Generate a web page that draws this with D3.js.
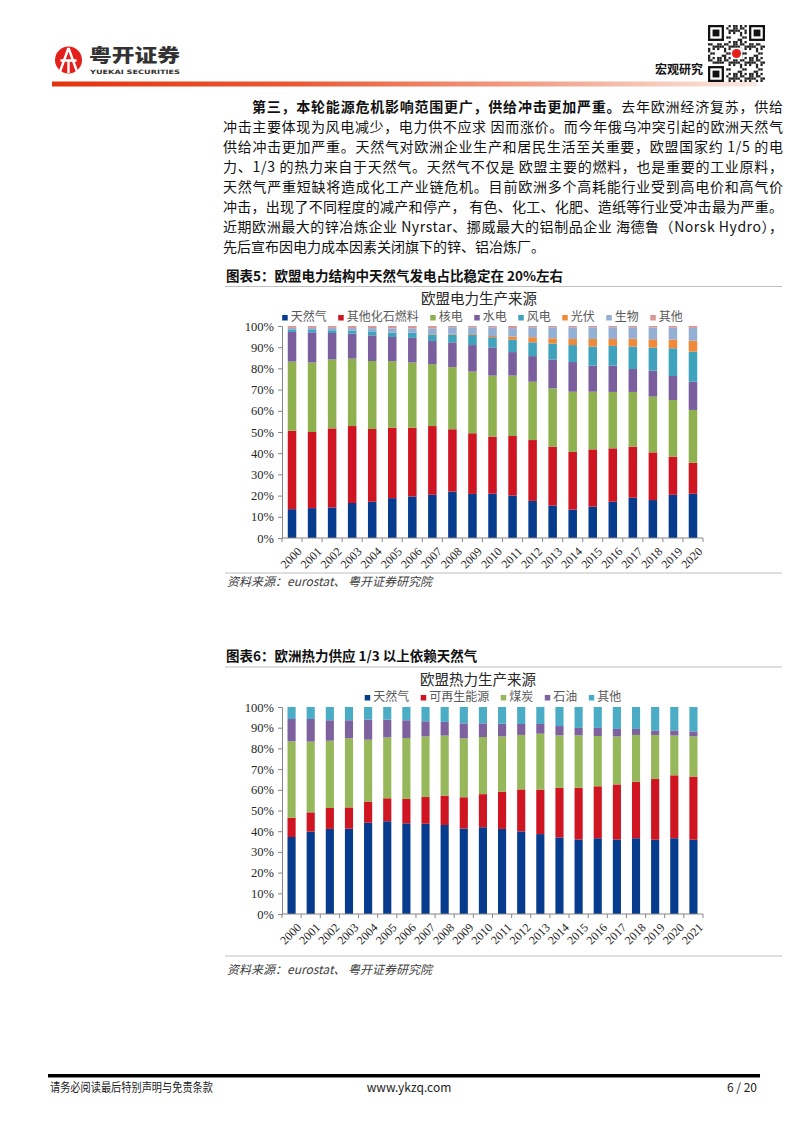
<!DOCTYPE html>
<html><head><meta charset="utf-8">
<script src="https://cdn.jsdelivr.net/npm/d3@7/dist/d3.min.js"></script>
<style>
html,body{margin:0;padding:0;background:#fff;}
svg{display:block;}
</style></head>
<body>
<script>
// ---------- DATA ----------
const elecYears = ["2000","2001","2002","2003","2004","2005","2006","2007","2008","2009","2010","2011","2012","2013","2014","2015","2016","2017","2018","2019","2020"];
const elecNames = ["天然气","其他化石燃料","核电","水电","风电","光伏","生物","其他"];
const elecGas     = [13.6,14.1,14.4,16.5,17.1,18.8,19.6,20.4,21.9,20.8,20.9,20.0,17.5,15.3,13.4,14.8,17.1,19.0,17.9,20.4,20.9];
const elecFossil  = [37.0,35.9,37.3,36.3,34.3,33.2,32.4,32.4,29.4,28.6,26.9,28.1,28.7,27.8,27.2,27.0,25.2,24.1,22.5,18.0,14.6];
const elecNuclear = [32.6,32.8,32.5,31.8,32.1,31.4,30.8,29.2,29.3,29.1,28.8,28.5,27.5,27.5,28.4,27.2,26.6,25.8,26.3,26.7,24.9];
const elecHydro   = [14.0,14.2,12.5,11.8,12.1,11.4,11.6,10.9,11.7,12.5,13.3,11.1,12.1,13.5,14.0,12.3,12.4,10.8,12.2,11.3,13.3];
const elecWind    = [0.9,1.1,1.3,1.5,1.9,2.1,2.3,3.1,3.7,4.8,4.8,5.8,6.5,7.6,8.0,9.0,9.3,10.6,10.9,13.1,14.2];
const elecSolar   = [0.0,0.0,0.0,0.0,0.0,0.1,0.1,0.2,0.3,0.4,0.6,1.5,2.4,2.5,2.9,3.6,3.3,3.7,3.9,4.1,5.2];
const elecBio     = [1.0,1.0,1.1,1.1,1.5,1.9,2.1,2.7,3.1,3.2,4.1,4.0,4.7,5.2,5.5,5.5,5.5,5.4,5.6,5.6,6.0];
const elecOther   = [0.9,0.9,0.9,1.0,1.0,1.1,1.1,1.1,0.6,0.6,0.6,1.0,0.6,0.6,0.6,0.6,0.6,0.6,0.7,0.8,0.9];

const heatYears = ["2000","2001","2002","2003","2004","2005","2006","2007","2008","2009","2010","2011","2012","2013","2014","2015","2016","2017","2018","2019","2020","2021"];
const heatNames = ["天然气","可再生能源","煤炭","石油","其他"];
const heatGas   = [37.2,39.8,41.1,41.2,44.1,44.8,43.8,43.6,43.0,41.3,41.9,41.1,39.9,38.6,37.0,36.0,36.6,36.0,36.6,35.9,36.6,35.9];
const heatRenew = [9.3,9.3,10.1,10.3,10.2,11.1,11.8,12.9,14.2,15.1,16.0,18.0,20.3,21.5,23.9,25.0,25.1,26.6,27.3,29.3,30.4,30.5];
const heatCoal  = [36.9,34.2,32.5,33.4,29.9,29.4,29.4,29.3,29.0,28.5,27.6,26.7,26.3,27.0,25.4,25.3,24.3,23.2,22.6,21.3,19.2,19.4];
const heatOil   = [10.8,10.9,9.9,8.7,9.7,8.6,8.6,7.3,6.6,7.2,6.6,6.1,5.3,4.7,4.5,3.6,3.9,3.6,2.9,2.2,2.5,2.4];
const heatOther = [5.8,5.8,6.4,6.4,6.1,6.1,6.4,6.9,7.2,7.9,7.9,8.1,8.2,8.2,9.2,10.1,10.1,10.6,10.6,11.3,11.3,11.8];

const yTicks = [0,10,20,30,40,50,60,70,80,90,100];

const paraLines = [
  [{t:"第三，本轮能源危机影响范围更广，供给冲击更加严重。",b:true},{t:"去年欧洲经济复苏，供给"}],
  [{t:"冲击主要体现为风电减少，电力供不应求 因而涨价。而今年俄乌冲突引起的欧洲天然气"}],
  [{t:"供给冲击更加严重。天然气对欧洲企业生产和居民生活至关重要，欧盟国家约  1/5 的电"}],
  [{t:"力、1/3 的热力来自于天然气。天然气不仅是 欧盟主要的燃料，也是重要的工业原料，"}],
  [{t:"天然气严重短缺将造成化工产业链危机。目前欧洲多个高耗能行业受到高电价和高气价"}],
  [{t:"冲击，出现了不同程度的减产和停产， 有色、化工、化肥、造纸等行业受冲击最为严重。"}],
  [{t:"近期欧洲最大的锌冶炼企业 Nyrstar、挪威最大的铝制品企业 海德鲁（Norsk Hydro），"}],
  [{t:"先后宣布因电力成本因素关闭旗下的锌、铝冶炼厂。"}]
];

// ---------- SETUP ----------
const CJK = "'Noto Sans CJK SC','Noto Sans',sans-serif";
const SERIF = "'Liberation Serif','Noto Sans CJK SC',serif";
const svg = d3.select("body").append("svg").attr("width",802).attr("height",1133);
svg.append("rect").attr("width",802).attr("height",1133).attr("fill","#fff");

// ---------- HEADER ----------
const defs = svg.append("defs");
const grad = defs.append("linearGradient").attr("id","hdrGrad").attr("x1","0").attr("x2","1");
grad.append("stop").attr("offset","0").attr("stop-color","#E4320E");
grad.append("stop").attr("offset","0.35").attr("stop-color","#EA5A35");
grad.append("stop").attr("offset","0.7").attr("stop-color","#F2A48C");
grad.append("stop").attr("offset","1").attr("stop-color","#FBEAE4");
svg.append("rect").attr("x",52).attr("y",81.5).attr("width",705).attr("height",5).attr("fill","url(#hdrGrad)");

// logo icon
const logo = svg.append("g");
logo.append("circle").attr("cx",68.5).attr("cy",60).attr("r",13.5).attr("fill","#E3201B");
logo.append("path").attr("d","M68.5,48 L59.5,73 M68.5,48 L77.5,73 M60.5,60.5 L76.5,60.5 M68.5,60.5 L68.5,73")
  .attr("stroke","#fff").attr("stroke-width",2.4).attr("fill","none");
svg.append("text").attr("x",89).attr("y",62).attr("font-family",CJK).attr("font-weight",900)
  .attr("font-size",18).attr("fill","#333").attr("textLength",91).attr("lengthAdjust","spacingAndGlyphs").text("粤开证券");
svg.append("text").attr("x",90).attr("y",74).attr("font-family","'DejaVu Sans',sans-serif").attr("font-weight",700)
  .attr("font-size",6).attr("fill","#333").attr("textLength",90).attr("lengthAdjust","spacingAndGlyphs").text("YUEKAI SECURITIES");

svg.append("text").attr("x",655).attr("y",74).attr("font-family",CJK).attr("font-weight",700)
  .attr("font-size",12).attr("fill","#111").text("宏观研究");

// decorative QR block
const qr = svg.append("g").attr("transform","translate(708,25)");
const m = 2.28, N = 25;
for (let i=0;i<N;i++) for (let j=0;j<N;j++){
  const inFinder = (i<8&&j<8)||(i<8&&j>=N-8)||(i>=N-8&&j<8);
  if (inFinder) continue;
  if (((i*i+3*j+i*j+j*j*2)%7)<3) qr.append("rect").attr("x",j*m).attr("y",i*m).attr("width",m).attr("height",m).attr("fill","#222");
}
[[0,0],[0,N-7],[N-7,0]].forEach(([r,c])=>{
  qr.append("rect").attr("x",c*m+m/2).attr("y",r*m+m/2).attr("width",6*m).attr("height",6*m).attr("fill","none").attr("stroke","#111").attr("stroke-width",m);
  qr.append("rect").attr("x",(c+2)*m).attr("y",(r+2)*m).attr("width",3*m).attr("height",3*m).attr("fill","#111");
});
qr.append("rect").attr("x",10*m).attr("y",10*m).attr("width",5*m).attr("height",5*m).attr("fill","#fff");
qr.append("circle").attr("cx",12.5*m).attr("cy",12.5*m).attr("r",2*m).attr("fill","#E3201B");

// ---------- PARAGRAPH ----------
paraLines.forEach((segs,i)=>{
  const x = i===0 ? 252 : 223;
  const t = svg.append("text").attr("x",x).attr("y",112+i*20).attr("font-family",CJK)
    .attr("font-size",14).attr("fill","#111");
  segs.forEach(s=>t.append("tspan").attr("font-weight",s.b?700:400).text(s.t));
  if (i < paraLines.length-1) t.attr("textLength",783-x).attr("lengthAdjust","spacing");
});

// ---------- CHART HELPERS ----------
function sectionTitle(y, txt){
  svg.append("text").attr("x",226).attr("y",y).attr("font-family",CJK).attr("font-weight",700)
    .attr("font-size",13.5).attr("fill","#111").text(txt);
}
function rule(y){
  svg.append("line").attr("x1",225).attr("x2",782).attr("y1",y).attr("y2",y).attr("stroke","#BFBFBF").attr("stroke-width",1);
}
function source(y){
  svg.append("text").attr("x",227).attr("y",y).attr("font-family",CJK).attr("font-style","italic")
    .attr("font-size",12).attr("fill","#404040").text("资料来源：eurostat、 粤开证券研究院");
}

function drawStacked(o){
  const data = o.years.map((yr,i)=>{const d={year:yr}; o.series.forEach((s,k)=>d["s"+k]=s[i]); return d;});
  const keys = o.series.map((_,k)=>"s"+k);
  const stacked = d3.stack().keys(keys)(data);
  const x = d3.scaleBand().domain(o.years).range([o.x0,o.x1]).paddingInner(0.575).paddingOuter(0.2875);
  const y = d3.scaleLinear().domain([0,100]).range([o.y1,o.y0]);
  const g = svg.append("g");

  // chart title
  g.append("text").attr("x",o.titleX).attr("y",o.titleY).attr("text-anchor","middle")
    .attr("font-family",CJK).attr("font-size",14.5).attr("fill","#262626").text(o.title);

  // legend
  const lg = g.append("g");
  let cx = 0;
  o.names.forEach((n,k)=>{
    const it = lg.append("g").attr("transform",`translate(${cx},0)`);
    it.append("rect").attr("x",0).attr("y",-5.5).attr("width",5.5).attr("height",5.5).attr("fill",o.colors[k]);
    const tx = it.append("text").attr("x",8.5).attr("y",0).attr("font-family",CJK).attr("font-size",12)
      .attr("fill","#595959").text(n);
    cx += 8.5 + tx.node().getComputedTextLength() + 11.5;
  });
  const lw = cx - 11.5;
  lg.attr("transform",`translate(${o.legendCX - lw/2},${o.legendY})`);

  // bars
  g.selectAll("g.layer").data(stacked).join("g").attr("class","layer")
    .attr("fill",(d,k)=>o.colors[k])
    .selectAll("rect").data(d=>d).join("rect")
    .attr("x",d=>x(d.data.year)).attr("width",x.bandwidth())
    .attr("y",d=>y(d[1])).attr("height",d=>Math.max(0,y(d[0])-y(d[1])));

  // y axis
  const ya = g.append("g").attr("transform",`translate(${o.x0},0)`)
    .call(d3.axisLeft(y).tickValues(yTicks).tickFormat(d=>d+"%").tickSize(4).tickPadding(4));
  ya.selectAll("path,line").attr("stroke","#868686");
  ya.selectAll("text").attr("font-family",SERIF).attr("font-size",12.5).attr("fill","#262626");

  // x axis
  const step = x.step();
  g.append("line").attr("x1",o.x0).attr("x2",o.x1).attr("y1",o.y1).attr("y2",o.y1).attr("stroke","#868686");
  g.selectAll("line.xt").data(d3.range(o.years.length+1)).join("line").attr("class","xt")
    .attr("x1",i=>o.x0+i*step).attr("x2",i=>o.x0+i*step).attr("y1",o.y1).attr("y2",o.y1+4).attr("stroke","#868686");
  g.selectAll("text.xl").data(o.years).join("text").attr("class","xl")
    .attr("transform",d=>`translate(${x(d)+x.bandwidth()/2+4},${o.y1+8}) rotate(-45)`)
    .attr("text-anchor","end").attr("dy","0.75em")
    .attr("font-family",SERIF).attr("font-size",12).attr("fill","#262626").text(d=>d);
}

// ---------- CHART 5 ----------
sectionTitle(281,"图表5：欧盟电力结构中天然气发电占比稳定在  20%左右");
rule(286.5);
drawStacked({
  years: elecYears,
  series: [elecGas,elecFossil,elecNuclear,elecHydro,elecWind,elecSolar,elecBio,elecOther],
  names: elecNames,
  colors: ["#063B8E","#CF1422","#8FB04E","#7A5E9E","#3FA3BE","#EF8A3A","#93AFD3","#D99694"],
  x0:282, x1:703, y0:326, y1:538,
  title:"欧盟电力生产来源", titleX:479, titleY:303.5,
  legendCX:482.5, legendY:320.5
});
rule(573);
source(586);

// ---------- CHART 6 ----------
sectionTitle(661,"图表6：欧洲热力供应 1/3 以上依赖天然气");
rule(667);
drawStacked({
  years: heatYears,
  series: [heatGas,heatRenew,heatCoal,heatOil,heatOther],
  names: heatNames,
  colors: ["#063B8E","#CF1422","#97B85A","#7E62A0","#4BACC6"],
  x0:282, x1:703, y0:707, y1:914,
  title:"欧盟热力生产来源", titleX:478, titleY:684.5,
  legendCX:493, legendY:700.5
});
rule(956);
source(974);

// ---------- FOOTER ----------
svg.append("rect").attr("x",48).attr("y",1074).attr("width",712).attr("height",3.5).attr("fill","#000");
svg.append("text").attr("x",50).attr("y",1092).attr("font-family",CJK).attr("font-size",12).attr("fill","#222")
  .attr("textLength",163).attr("lengthAdjust","spacingAndGlyphs").text("请务必阅读最后特别声明与免责条款");
svg.append("text").attr("x",409).attr("y",1092).attr("text-anchor","middle").attr("font-family",CJK).attr("font-size",12).attr("fill","#222").text("www.ykzq.com");
svg.append("text").attr("x",757).attr("y",1092).attr("text-anchor","end").attr("font-family",CJK).attr("font-size",12).attr("fill","#222").text("6 / 20");
</script>
</body></html>
